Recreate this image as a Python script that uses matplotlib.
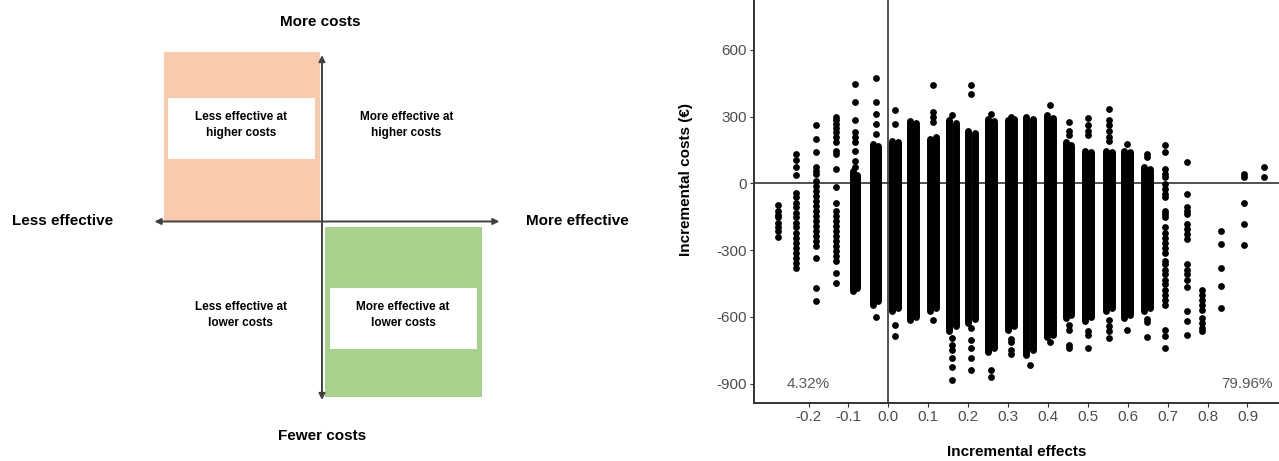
import matplotlib
matplotlib.use("Agg")
import matplotlib.pyplot as plt
from matplotlib.patches import Rectangle

plt.rcParams['font.family'] = ['Liberation Sans', 'DejaVu Sans']

# --- right panel data (read off the bootstrap cost-effectiveness plane) ---
# one entry per column of bootstrap replicates
col_effect = [-0.276, -0.231, -0.181, -0.131, -0.0835, -0.0316, 0.0168, 0.0627,
              0.1128, 0.1604, 0.2073, 0.2574, 0.3075, 0.354, 0.4055, 0.4519,
              0.5013, 0.553, 0.5975, 0.6476, 0.6935, 0.748, 0.787, 0.834,
              0.892, 0.942]
# isolated replicates in each column
col_costs = [
    [-97, -123, -140, -153, -176, -198, -213, -239],
    [133, 106, 73, 40, -45, -63, -86, -108, -131, -153, -176, -198, -221,
     -243, -266, -288, -311, -334, -356, -379],
    [261, 201, 141, 73, 58, 43, 13, -10, -33, -55, -78, -100, -123, -146,
     -168, -191, -213, -236, -258, -281, -334, -469, -529],
    [299, 284, 269, 251, 231, 208, 186, 148, 133, 66, -18, -86, -123, -146,
     -168, -191, -213, -236, -258, -281, -304, -326, -349, -402, -447],
    [449, 366, 284, 231, 208, 186, 148, 103, 73],
    [473, 366, 314, 269, 224, -602],
    [329, 269, -636, -688],
    [],
    [443, 320, 298, 276, -612],
    [306, -696, -726, -748, -786, -824, -884],
    [443, 402, -650, -703, -741, -786, -839],
    [314, -839, -869],
    [299, -700, -715, -750, -765],
    [-815],
    [352, -712],
    [276, 238, 216, -635, -657, -726, -741],
    [293, 265, 238, 216, -665, -680, -740],
    [336, 284, 261, 238, 208, 193, -612, -643, -665, -696],
    [178, -657],
    [133, 118, -610, -625, -690],
    [171, 141, 66, 43, 28, -2, -25, -47, -62, -123, -138, -153, -198, -221,
     -243, -266, -288, -311, -349, -364, -387, -409, -432, -454, -477, -500,
     -522, -545, -658, -688, -741],
    [95, -47, -107, -123, -138, -183, -206, -228, -251, -364, -387, -409,
     -432, -465, -575, -620, -680],
    [-477, -500, -522, -545, -567, -605, -628, -650, -665],
    [-213, -270, -379, -462, -560],
    [43, 31, -90, -183, -276],
    [73, 28],
]
# stretches where replicates overlap into a solid column
run_effect = [-0.088, -0.079, -0.038, -0.025, 0.010, 0.024, 0.055, 0.070,
              0.105, 0.120, 0.152, 0.169, 0.199, 0.216, 0.249, 0.266,
              0.299, 0.316, 0.346, 0.363, 0.398, 0.413, 0.444, 0.459,
              0.494, 0.509, 0.545, 0.561, 0.590, 0.605, 0.640, 0.655]
run_top = [58, 40, 178, 170, 193, 185, 280, 270, 200, 210, 284, 270, 238, 225,
           291, 280, 284, 290, 300, 290, 306, 295, 186, 175, 148, 140, 148, 140,
           148, 140, 75, 65]
run_bottom = [-484, -470, -545, -530, -575, -560, -612, -600, -575, -560, -665,
              -640, -627, -610, -756, -740, -660, -640, -770, -750, -690, -680,
              -605, -590, -620, -600, -575, -560, -605, -590, -575, -560]

quadrant_share = ["4.32%", "79.96%"]
share_effect = [-0.2, 0.9]
share_cost = [-900, -900]

x_ticks = [-0.2, -0.1, 0.0, 0.1, 0.2, 0.3, 0.4, 0.5, 0.6, 0.7, 0.8, 0.9]
y_ticks = [-900, -600, -300, 0, 300, 600]

# --- left panel text ---
quad_text = ["Less effective at\nhigher costs", "More effective at\nhigher costs",
             "Less effective at\nlower costs", "More effective at\nlower costs"]

fig = plt.figure(figsize=(12.79, 4.61), dpi=100)

# ================= left: explanatory quadrant diagram =================
ax0 = fig.add_axes([0, 0, 640 / 1279, 1])
ax0.set_xlim(-2.038, 2.013)
ax0.set_ylim(-1.409, 1.303)
ax0.axis("off")

ax0.add_patch(Rectangle((-1.0, 0.0), 0.99, 1.0, facecolor="#F8CBAD", edgecolor="none"))
ax0.add_patch(Rectangle((0.02, -1.03), 0.99, 1.0, facecolor="#A9D18E", edgecolor="none"))
ax0.add_patch(Rectangle((-0.975, 0.37), 0.93, 0.355, facecolor="white", edgecolor="none"))
ax0.add_patch(Rectangle((0.05, -0.75), 0.93, 0.36, facecolor="white", edgecolor="none"))

arrow = dict(arrowstyle="<|-|>", mutation_scale=9, lw=1.4, color="#404040",
             shrinkA=0, shrinkB=0)
ax0.annotate("", xy=(1.123, 0), xytext=(-1.06, 0), arrowprops=arrow)
ax0.annotate("", xy=(0, 0.979), xytext=(0, -1.05), arrowprops=arrow)

big = dict(fontsize=11, fontweight="bold", color="black")
ax0.text(-0.01, 1.175, "More costs", ha="center", va="center", **big)
ax0.text(0.0, -1.262, "Fewer costs", ha="center", va="center", **big)
ax0.text(-1.96, 0.0, "Less effective", ha="left", va="center", **big)
ax0.text(1.29, 0.0, "More effective", ha="left", va="center", **big)

for (tx, ty), s in zip([(-0.513, 0.568), (0.535, 0.568), (-0.513, -0.55), (0.513, -0.55)],
                       quad_text):
    ax0.text(tx, ty, s, ha="center", va="center", fontsize=8.5, fontweight="bold",
             linespacing=1.4)

# ================= right: cost-effectiveness plane =================
ax = fig.add_axes([754 / 1279, 58 / 461, 525 / 1279, 446 / 461])
ax.set_xlim(-0.3366, 0.979)
ax.set_ylim(-987, 1018)

ax.axhline(0, color="#333333", lw=1.2, zorder=1)
ax.axvline(0, color="#333333", lw=1.2, zorder=1)

ax.vlines(run_effect, run_bottom, run_top, colors="black", linewidth=5,
          capstyle="round", zorder=2)
for xe, costs in zip(col_effect, col_costs):
    ax.scatter([xe] * len(costs), costs, s=24, color="black", linewidths=0, zorder=3)

for s, xe, yc in zip(quadrant_share, share_effect, share_cost):
    ax.text(xe, yc, s, ha="center", va="center", fontsize=11, color="#595959")

ax.set_xticks(x_ticks)
ax.set_xticklabels([f"{v:.1f}" for v in x_ticks])
ax.set_yticks(y_ticks)
ax.set_yticklabels([f"{v}" for v in y_ticks])
ax.tick_params(length=3, color="#333333", labelcolor="#4D4D4D", labelsize=11, pad=2)

for side in ["top", "right"]:
    ax.spines[side].set_visible(False)
for side in ["left", "bottom"]:
    ax.spines[side].set_color("#333333")
    ax.spines[side].set_linewidth(1.4)

ax.set_xlabel("Incremental effects", fontsize=11, fontweight="bold", labelpad=15)
ax.set_ylabel("Incremental costs (\u20ac)", fontsize=11, fontweight="bold", labelpad=17)

fig.savefig("out.png", dpi=100)
